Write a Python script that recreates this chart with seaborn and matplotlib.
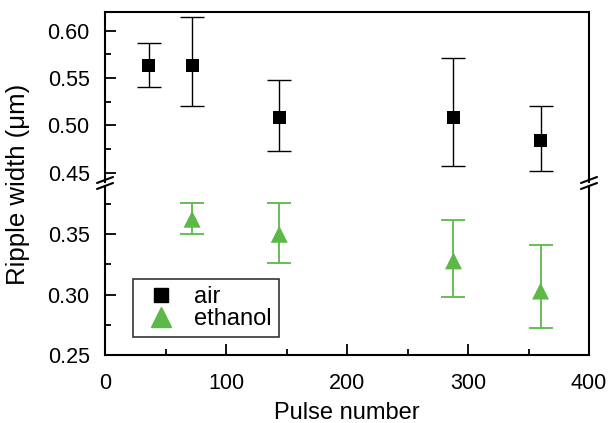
import matplotlib
matplotlib.use('Agg')
import matplotlib.pyplot as plt
from matplotlib.lines import Line2D
from matplotlib.ticker import MultipleLocator, FormatStrFormatter
import numpy as np
import pandas as pd
import seaborn as sns

# data
pulses_air = [36, 72, 144, 288, 360]
width_air = [0.563, 0.563, 0.508, 0.508, 0.484]
air_low = [0.541, 0.520, 0.473, 0.457, 0.452]
air_high = [0.587, 0.615, 0.548, 0.571, 0.520]

pulses_eth = [72, 144, 288, 360]
width_eth = [0.3625, 0.350, 0.328, 0.303]
eth_low = [0.350, 0.326, 0.298, 0.272]
eth_high = [0.376, 0.376, 0.362, 0.341]

green = '#5cb947'

sns.set_style('ticks')
plt.rcParams['font.family'] = ['Liberation Sans', 'DejaVu Sans']
plt.rcParams['font.size'] = 15.5
for key in ('text.color', 'axes.labelcolor', 'xtick.color', 'ytick.color'):
    plt.rcParams[key] = 'black'

fig = plt.figure(figsize=(6.09, 4.23), dpi=100)
left, right = 105 / 609, 589 / 609
ax_top = fig.add_axes([left, 1 - 182 / 423, right - left, (182 - 12) / 423])
ax_bot = fig.add_axes([left, 1 - 355 / 423, right - left, (355 - 186) / 423], sharex=ax_top)

df_air = pd.DataFrame({'pulse': pulses_air, 'width': width_air})
df_eth = pd.DataFrame({'pulse': pulses_eth, 'width': width_eth})

# error bars
err_air = [np.array(width_air) - np.array(air_low), np.array(air_high) - np.array(width_air)]
ax_top.errorbar(pulses_air, width_air, yerr=err_air, fmt='none', ecolor='black',
                elinewidth=1.0, capsize=8.3, capthick=1.0, zorder=2)
err_eth = [np.array(width_eth) - np.array(eth_low), np.array(eth_high) - np.array(width_eth)]
ax_bot.errorbar(pulses_eth, width_eth, yerr=err_eth, fmt='none', ecolor=green,
                elinewidth=1.3, capsize=8.3, capthick=1.3, zorder=2)

sns.scatterplot(data=df_air, x='pulse', y='width', ax=ax_top, marker='s', s=88,
                color='black', edgecolor='none', zorder=3, legend=False)
sns.scatterplot(data=df_eth, x='pulse', y='width', ax=ax_bot, marker='^', s=150,
                color=green, edgecolor='none', zorder=3, legend=False)

ax_top.set_ylim(0.44, 0.62)
ax_bot.set_ylim(0.25, 0.39)
ax_bot.set_xlim(0, 400)

for ax in (ax_top, ax_bot):
    for s in ax.spines.values():
        s.set_linewidth(1.5)
        s.set_color('black')
    ax.yaxis.set_minor_locator(MultipleLocator(0.025))
    ax.tick_params(which='major', direction='in', length=8, width=1.3, right=False, top=False)
    ax.tick_params(which='minor', direction='in', length=4.5, width=1.3, right=False, top=False)
    ax.tick_params(axis='y', which='both', pad=11)
    ax.set_xlabel('')
    ax.set_ylabel('')

ax_top.spines['bottom'].set_visible(False)
ax_top.tick_params(which='both', bottom=False, labelbottom=False)
ax_top.set_yticks([0.45, 0.50, 0.55, 0.60])
ax_top.yaxis.set_major_formatter(FormatStrFormatter('%.2f'))

ax_bot.spines['top'].set_visible(False)
ax_bot.set_yticks([0.25, 0.30, 0.35])
ax_bot.yaxis.set_major_formatter(FormatStrFormatter('%.2f'))
ax_bot.set_xticks([0, 100, 200, 300, 400])
ax_bot.xaxis.set_minor_locator(MultipleLocator(50))
ax_bot.tick_params(axis='x', which='both', pad=13)

# break marks
for xf in (left, right):
    for dy in (0, 6):
        y0 = 1 - (189 - dy) / 423
        fig.add_artist(Line2D([xf - 8 / 609, xf + 8 / 609], [y0, y0 + 6 / 423],
                              color='black', lw=1.5, transform=fig.transFigure))

ax_bot.set_xlabel('Pulse number', fontsize=17, labelpad=6)
fig.text(18 / 609, 1 - 184 / 423, 'Ripple width (μm)', rotation=90,
         ha='center', va='center', fontsize=18.5)

handles = [Line2D([], [], marker='s', ls='none', color='black', markersize=10),
           Line2D([], [], marker='^', ls='none', color=green, markersize=14)]
leg = ax_bot.legend(handles, ['air', 'ethanol'], loc='upper left',
                    bbox_to_anchor=(28 / 484, 1 - (279 - 186) / 169),
                    frameon=True, fancybox=False, edgecolor='black',
                    handletextpad=0.5, borderpad=0.3, labelspacing=0.0,
                    handlelength=1.78, borderaxespad=0, fontsize=17)
leg.get_frame().set_linewidth(1.2)

fig.savefig('out.png', dpi=100)
